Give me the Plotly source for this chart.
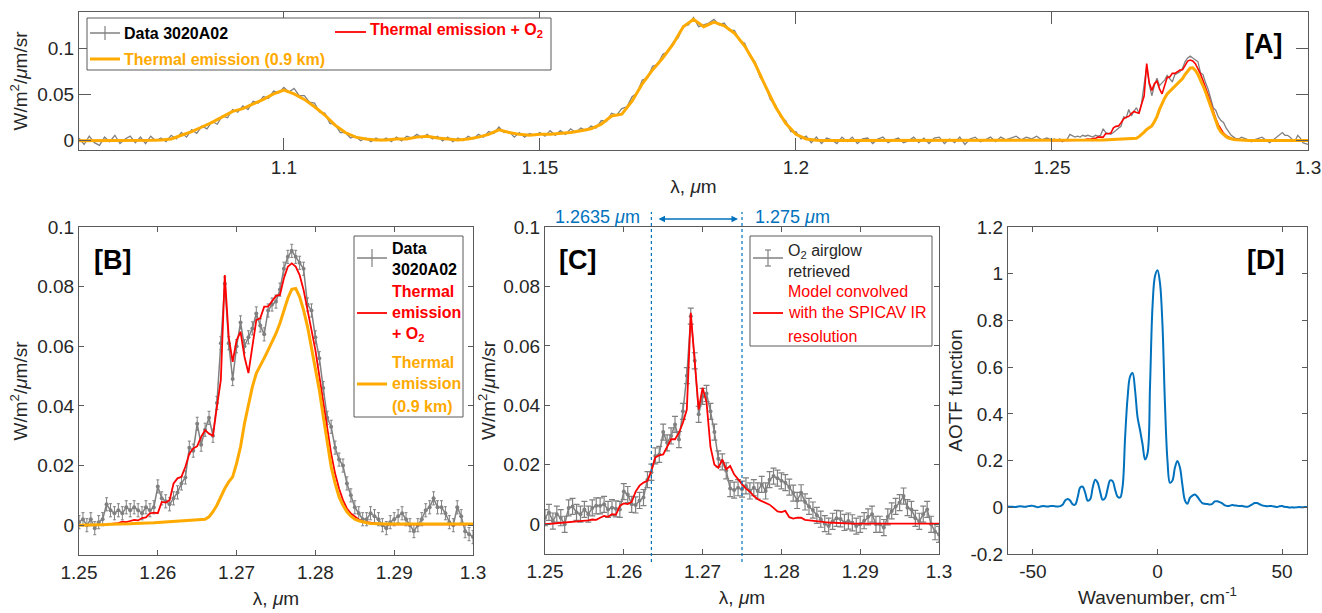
import numpy as np
import plotly.graph_objects as go

W, H = 1322, 613
FONT = "Liberation Sans"
TXT = "#262626"
FRAME = "#5a5a5a"
GRAY = "#808080"
RED = "#ff0000"
ORANGE = "#ffaa00"
BLUE = "#0072bd"

# ---------------- data ----------------
# Panel A: measured spectrum 1.060-1.249 um (step 0.001)
a_wl_start, a_wl_step = 1.060, 0.001
data_a = [
    0.003, -0.004, 0.005, -0.002, -0.005, 0.004, -0.001, 0.006, -0.003, 0.002,
    0.005, -0.002, 0.004, -0.003, 0.005, 0.000, 0.003, -0.001, 0.006, 0.002,
    0.009, 0.004, 0.012, 0.008, 0.016, 0.013, 0.021, 0.018, 0.027, 0.025,
    0.034, 0.031, 0.038, 0.034, 0.043, 0.041, 0.048, 0.046, 0.054, 0.052,
    0.058, 0.053, 0.057, 0.049, 0.049, 0.042, 0.041, 0.031, 0.030, 0.019,
    0.018, 0.009, 0.009, 0.003, 0.005, 0.000, 0.003, -0.001, 0.003, 0.000,
    0.003, -0.001, 0.004, 0.000, 0.005, 0.003, 0.007, 0.003, 0.007, 0.002,
    0.005, 0.000, 0.004, -0.001, 0.003, 0.000, 0.005, 0.002, 0.007, 0.004,
    0.010, 0.008, 0.015, 0.009, 0.010, 0.004, 0.009, 0.004, 0.008, 0.006,
    0.009, 0.005, 0.011, 0.006, 0.011, 0.007, 0.013, 0.009, 0.014, 0.011,
    0.016, 0.014, 0.022, 0.021, 0.030, 0.028, 0.035, 0.037, 0.048, 0.052,
    0.066, 0.068, 0.081, 0.083, 0.094, 0.097, 0.107, 0.112, 0.125, 0.126,
    0.134, 0.124, 0.126, 0.128, 0.132, 0.126, 0.128, 0.120, 0.120, 0.109,
    0.106, 0.092, 0.086, 0.069, 0.061, 0.045, 0.039, 0.026, 0.022, 0.010,
    0.010, 0.002, 0.005, -0.002, 0.004, -0.003, 0.003, 0.001, -0.003, 0.004,
    -0.001, 0.004, -0.003, 0.002, 0.003, -0.003, 0.002, 0.004, -0.002, 0.001,
    0.003, -0.002, 0.000, 0.004, -0.002, 0.003, -0.003, 0.003, 0.004, -0.003,
    0.002, -0.002, 0.004, -0.004, 0.002, 0.004, -0.001, 0.001, 0.004, -0.001,
    0.004, 0.001, 0.003, 0.005, 0.001, 0.004, 0.002, 0.005, 0.001, 0.003,
]
# Panel A: thermal emission model 1.060-1.248 um (step 0.002)
o_wl_start, o_wl_step = 1.060, 0.002
thermal_a = [
    0.0, 0.0, 0.0, 0.0, 0.0, 0.0, 0.0, 0.0005, 0.001, 0.002,
    0.006, 0.010, 0.015, 0.020, 0.026, 0.032, 0.035, 0.040, 0.045, 0.051,
    0.055, 0.051, 0.045, 0.037, 0.028, 0.017, 0.009, 0.004, 0.002, 0.001,
    0.001, 0.002, 0.002, 0.004, 0.005, 0.003, 0.002, 0.001, 0.002, 0.004,
    0.007, 0.012, 0.009, 0.007, 0.006, 0.007, 0.007, 0.008, 0.009, 0.011,
    0.013, 0.018, 0.027, 0.029, 0.043, 0.062, 0.077, 0.090, 0.105, 0.124,
    0.132, 0.124, 0.129, 0.125, 0.117, 0.103, 0.084, 0.060, 0.037, 0.019,
    0.007, 0.002, 0.0005, 0.0003, 0.0003, 0.0003, 0.0003, 0.0003, 0.0003, 0.0003,
    0.0003, 0.0003, 0.0003, 0.0003, 0.0003, 0.0003, 0.0003, 0.0003, 0.0003, 0.0003,
    0.0003, 0.0003, 0.0003, 0.0003, 0.0003,
]

# Panels B/C: 1.250-1.300 um (step 0.0005)
b_wl_start, b_wl_step = 1.250, 0.0005
data_b = [
    0.001, 0.002, 0.000, 0.002, -0.001, 0.001, 0.002, 0.007, 0.005, 0.004,
    0.005, 0.004, 0.006, 0.005, 0.006, 0.005, 0.004, 0.006, 0.005, 0.006,
    0.013, 0.009, 0.008, 0.007, 0.009, 0.011, 0.014, 0.016, 0.026, 0.025,
    0.034, 0.027, 0.032, 0.036, 0.030, 0.041, 0.061, 0.081, 0.061, 0.049,
    0.060, 0.068, 0.060, 0.063, 0.066, 0.071, 0.067, 0.064, 0.072, 0.074,
    0.075, 0.079, 0.086, 0.090, 0.092, 0.090, 0.088, 0.086, 0.074, 0.072,
    0.063, 0.056, 0.046, 0.036, 0.033, 0.026, 0.022, 0.020, 0.014, 0.010,
    0.006, 0.004, 0.002, 0.002, 0.004, 0.003, 0.002, 0.000, -0.001, 0.001,
    0.002, 0.003, 0.004, 0.002, 0.000, -0.002, 0.000, 0.002, 0.005, 0.006,
    0.009, 0.006, 0.006, 0.004, 0.001, 0.000, 0.006, 0.003, -0.002, -0.003,
    -0.004,
]
thermal_o2_b = [
    0.0000, 0.0000, 0.0000, 0.0001, 0.0001, 0.0002, 0.0002, 0.0003, 0.0004, 0.0006,
    0.0007, 0.0012, 0.0010, 0.0014, 0.0018, 0.0016, 0.0024, 0.0026, 0.0040, 0.0042,
    0.0040, 0.0078, 0.0076, 0.0084, 0.0140, 0.0157, 0.0162, 0.0196, 0.0240, 0.0257,
    0.0265, 0.0296, 0.0319, 0.0307, 0.0300, 0.0397, 0.0487, 0.0839, 0.0630, 0.0548,
    0.0620, 0.0649, 0.0565, 0.0510, 0.0600, 0.0688, 0.0694, 0.0733, 0.0733, 0.0750,
    0.0769, 0.0772, 0.0828, 0.0867, 0.0878, 0.0867, 0.0839, 0.0789, 0.0727, 0.0655,
    0.0587, 0.0498, 0.0408, 0.0319, 0.0240, 0.0173, 0.0123, 0.0084, 0.0056, 0.0039,
    0.0028, 0.0019, 0.0013, 0.0010, 0.0008, 0.0006, 0.0004, 0.0003, 0.0003, 0.0003,
    0.0003, 0.0003, 0.0003, 0.0003, 0.0003, 0.0003, 0.0003, 0.0003, 0.0003, 0.0003,
    0.0003, 0.0003, 0.0003, 0.0003, 0.0003, 0.0003, 0.0003, 0.0003, 0.0003, 0.0003,
    0.0003,
]
thermal_b = [
    0.0000, 0.0000, 0.0001, 0.0001, 0.0001, 0.0002, 0.0002, 0.0002, 0.0003, 0.0003,
    0.0004, 0.0004, 0.0005, 0.0005, 0.0006, 0.0006, 0.0007, 0.0007, 0.0008, 0.0008,
    0.0009, 0.0010, 0.0011, 0.0012, 0.0012, 0.0013, 0.0014, 0.0015, 0.0016, 0.0017,
    0.0017, 0.0018, 0.0020, 0.0028, 0.0045, 0.0067, 0.0095, 0.0123, 0.0145, 0.0162,
    0.0207, 0.0263, 0.0341, 0.0408, 0.0464, 0.0509, 0.0537, 0.0560, 0.0587, 0.0615,
    0.0643, 0.0677, 0.0721, 0.0761, 0.0791, 0.0794, 0.0766, 0.0721, 0.0666, 0.0598,
    0.0531, 0.0453, 0.0364, 0.0274, 0.0196, 0.0140, 0.0095, 0.0067, 0.0045, 0.0030,
    0.0020, 0.0015, 0.0011, 0.0008, 0.0006, 0.0005, 0.0004, 0.0004, 0.0004, 0.0004,
    0.0004, 0.0004, 0.0004, 0.0004, 0.0004, 0.0004, 0.0004, 0.0004, 0.0004, 0.0004,
    0.0004, 0.0004, 0.0004, 0.0004, 0.0004, 0.0004, 0.0004, 0.0004, 0.0004, 0.0004,
    0.0004,
]
airglow_c = [
    0.0022, 0.0040, 0.0011, 0.0034, 0.0022, 0.0000, 0.0055, 0.0060, 0.0040, 0.0034,
    0.0050, 0.0034, 0.0055, 0.0062, 0.0062, 0.0067, 0.0050, 0.0056, 0.0052, 0.0050,
    0.0110, 0.0100, 0.0067, 0.0065, 0.0080, 0.0090, 0.0150, 0.0175, 0.0230, 0.0235,
    0.0310, 0.0274, 0.0297, 0.0336, 0.0285, 0.0380, 0.0500, 0.0700, 0.0550, 0.0370,
    0.0430, 0.0440, 0.0380, 0.0310, 0.0220, 0.0210, 0.0180, 0.0120, 0.0115, 0.0123,
    0.0118, 0.0129, 0.0112, 0.0123, 0.0112, 0.0134, 0.0112, 0.0150, 0.0162, 0.0155,
    0.0146, 0.0140, 0.0125, 0.0105, 0.0080, 0.0106, 0.0075, 0.0060, 0.0048, 0.0030,
    0.0017, 0.0002, -0.0006, 0.0010, 0.0020, 0.0018, 0.0006, 0.0011, 0.0005, -0.0006,
    0.0000, 0.0012, 0.0025, 0.0034, 0.0000, 0.0000, -0.0011, 0.0025, 0.0045, 0.0060,
    0.0073, 0.0095, 0.0056, 0.0050, 0.0020, 0.0010, 0.0034, 0.0050, 0.0000, -0.0025,
    -0.0034,
]
model_c = [
    0.0000, 0.0001, 0.0002, 0.0003, 0.0004, 0.0005, 0.0006, 0.0007, 0.0008, 0.0011,
    0.0010, 0.0013, 0.0016, 0.0015, 0.0022, 0.0028, 0.0025, 0.0034, 0.0032, 0.0062,
    0.0070, 0.0068, 0.0075, 0.0110, 0.0130, 0.0140, 0.0146, 0.0180, 0.0225, 0.0232,
    0.0235, 0.0258, 0.0286, 0.0286, 0.0308, 0.0342, 0.0386, 0.0711, 0.0560, 0.0386,
    0.0459, 0.0410, 0.0260, 0.0200, 0.0190, 0.0218, 0.0185, 0.0196, 0.0168, 0.0150,
    0.0135, 0.0120, 0.0110, 0.0095, 0.0084, 0.0078, 0.0073, 0.0066, 0.0055, 0.0043,
    0.0041, 0.0045, 0.0024, 0.0019, 0.0022, 0.0022, 0.0015, 0.0013, 0.0013, 0.0011,
    0.0008, 0.0007, 0.0006, 0.0005, 0.0004, 0.0003, 0.0002, 0.0002, 0.0002, 0.0002,
    0.0002, 0.0002, 0.0002, 0.0002, 0.0002, 0.0002, 0.0002, 0.0002, 0.0002, 0.0002,
    0.0002, 0.0002, 0.0002, 0.0002, 0.0002, 0.0002, 0.0002, 0.0002, 0.0002, 0.0002,
    0.0002,
]
err_b = 0.0022
err_c = 0.0027

# Panel D: AOTF function, wavenumber -60..60 cm-1 (step 1)
d_wn_start, d_wn_step = -60, 1
aotf = [
    0.003, 0.002, 0.002, 0.001, 0.003, 0.004, 0.003, 0.002, 0.005, 0.006,
    0.006, 0.003, 0.000, 0.003, 0.005, 0.004, 0.003, 0.005, 0.006, 0.004,
    0.003, 0.005, 0.012, 0.030, 0.036, 0.028, 0.012, 0.012, 0.045, 0.085,
    0.088, 0.062, 0.028, 0.035, 0.085, 0.118, 0.105, 0.065, 0.032, 0.040,
    0.080, 0.115, 0.112, 0.075, 0.045, 0.042, 0.090, 0.300, 0.470, 0.560,
    0.575, 0.500, 0.385, 0.330, 0.270, 0.205, 0.230, 0.520, 0.860, 0.990,
    1.015, 0.960, 0.780, 0.440, 0.200, 0.105, 0.115, 0.170, 0.198, 0.170,
    0.095, 0.030, 0.015, 0.040, 0.050, 0.055, 0.045, 0.030, 0.018, 0.015,
    0.014, 0.012, 0.015, 0.025, 0.026, 0.022, 0.017, 0.008, 0.006, 0.007,
    0.010, 0.008, 0.007, 0.005, 0.006, 0.003, 0.002, 0.006, 0.012, 0.018,
    0.018, 0.013, 0.008, 0.006, 0.004, 0.006, 0.005, 0.003, 0.001, 0.004,
    0.005, 0.002, 0.001, -0.001, 0.000, -0.001, 0.000, 0.001, 0.000, 0.001,
    0.001,
]
c_window = [1.2635, 1.275]

# ---------------- grids ----------------
wl_a = np.round(a_wl_start + a_wl_step * np.arange(len(data_a)), 4)
wl_o = np.round(o_wl_start + o_wl_step * np.arange(len(thermal_a)), 4)
wl_b = np.round(b_wl_start + b_wl_step * np.arange(len(data_b)), 4)
wn_d = d_wn_start + d_wn_step * np.arange(len(aotf))

data_full = np.concatenate([wl_a, wl_b]), np.concatenate([data_a, data_b])
therm_full = np.concatenate([wl_o, wl_b]), np.concatenate([thermal_a, thermal_b])

fig = go.Figure()
# A
fig.add_trace(go.Scatter(x=data_full[0], y=data_full[1], mode="lines",
                         line=dict(color=GRAY, width=1.3), xaxis="x", yaxis="y"))
fig.add_trace(go.Scatter(x=wl_b, y=thermal_o2_b, mode="lines",
                         line=dict(color=RED, width=1.6), xaxis="x", yaxis="y"))
fig.add_trace(go.Scatter(x=therm_full[0], y=therm_full[1], mode="lines",
                         line=dict(color=ORANGE, width=3), xaxis="x", yaxis="y"))
# B
fig.add_trace(go.Scatter(x=wl_b, y=data_b, mode="lines+markers",
                         line=dict(color=GRAY, width=1.5), marker=dict(color=GRAY, size=4),
                         error_y=dict(type="constant", value=err_b, color=GRAY, thickness=1, width=1.5),
                         xaxis="x2", yaxis="y2"))
fig.add_trace(go.Scatter(x=wl_b, y=thermal_o2_b, mode="lines",
                         line=dict(color=RED, width=1.8), xaxis="x2", yaxis="y2"))
fig.add_trace(go.Scatter(x=wl_b, y=thermal_b, mode="lines",
                         line=dict(color=ORANGE, width=3), xaxis="x2", yaxis="y2"))
# C
fig.add_trace(go.Scatter(x=wl_b, y=airglow_c, mode="lines+markers",
                         line=dict(color=GRAY, width=1.5), marker=dict(color=GRAY, size=4),
                         error_y=dict(type="constant", value=err_c, color=GRAY, thickness=1.2, width=3),
                         xaxis="x3", yaxis="y3"))
fig.add_trace(go.Scatter(x=wl_b, y=model_c, mode="lines",
                         line=dict(color=RED, width=1.8), xaxis="x3", yaxis="y3"))
# D
fig.add_trace(go.Scatter(x=wn_d, y=aotf, mode="lines", line_shape="spline",
                         line=dict(color=BLUE, width=2), xaxis="x4", yaxis="y4"))


def px(x):
    return x / W


def py(y):
    return 1 - y / H


def axis(dom, rng, ticklen, tickvals, ticktext, anchor, title=None, standoff=0):
    d = dict(domain=dom, range=rng, showline=True, linecolor=FRAME, linewidth=1,
             mirror="allticks", ticks="inside", ticklen=ticklen, tickcolor=FRAME,
             tickwidth=1, showgrid=False, zeroline=False, automargin=False,
             tickvals=tickvals, ticktext=ticktext, anchor=anchor,
             tickfont=dict(family=FONT, size=19, color=TXT))
    if title:
        d["title"] = dict(text=title, standoff=standoff,
                          font=dict(family=FONT, size=19, color=TXT))
    return d


ylab = "W/m<sup>2</sup>/<i>μ</i>m/sr"
xlab = "λ, <i>μ</i>m"
wl_ticks_a = [1.1, 1.15, 1.2, 1.25, 1.3]
wl_ticks_b = [1.25, 1.26, 1.27, 1.28, 1.29, 1.3]
yt_a = [0, 0.05, 0.1]
yt_b = [0, 0.02, 0.04, 0.06, 0.08, 0.1]
yt_d = [-0.2, 0, 0.2, 0.4, 0.6, 0.8, 1, 1.2]
xt_d = [-50, 0, 50]

fig.update_layout(
    width=W, height=H, margin=dict(l=0, r=0, t=0, b=0),
    paper_bgcolor="white", plot_bgcolor="white", showlegend=False,
    xaxis=axis([px(79), px(1308)], [1.06, 1.3], 12, wl_ticks_a,
               [str(v) for v in wl_ticks_a], "y", xlab, 2),
    yaxis=axis([py(150), py(12)], [-0.01, 0.14], 12, yt_a,
               [str(v) for v in yt_a], "x", ylab, 4),
    xaxis2=axis([px(79), px(473)], [1.25, 1.3], 5, wl_ticks_b,
                [str(v) for v in wl_ticks_b], "y2", xlab, 9),
    yaxis2=axis([py(555), py(227)], [-0.01, 0.1], 5, yt_b,
                [str(v) for v in yt_b], "x2", ylab, 4),
    xaxis3=axis([px(545), px(939)], [1.25, 1.3], 5, wl_ticks_b,
                [str(v) for v in wl_ticks_b], "y3", xlab, 9),
    yaxis3=axis([py(554), py(227)], [-0.01, 0.1], 5, yt_b,
                [str(v) for v in yt_b], "x3", ylab, 2),
    xaxis4=axis([px(1008), px(1307)], [-60, 60], 5, xt_d,
                [str(v) for v in xt_d], "y4", "Wavenumber, cm<sup>-1</sup>", 9),
    yaxis4=axis([py(554), py(227)], [-0.2, 1.2], 5, yt_d,
                [f"{v:g}" for v in yt_d], "x4", "AOTF function", 2),
)

shapes = []
annots = []


def hline(x0, x1, y, color, width):
    shapes.append(dict(type="line", xref="paper", yref="paper", x0=px(x0), x1=px(x1),
                       y0=py(y), y1=py(y), line=dict(color=color, width=width)))


def vline(x, y0, y1, color, width):
    shapes.append(dict(type="line", xref="paper", yref="paper", x0=px(x), x1=px(x),
                       y0=py(y0), y1=py(y1), line=dict(color=color, width=width)))


def box(x0, y0, x1, y1):
    shapes.append(dict(type="rect", xref="paper", yref="paper", x0=px(x0), x1=px(x1),
                       y0=py(y1), y1=py(y0), line=dict(color=FRAME, width=1),
                       fillcolor="white", layer="above"))


def text(x, y, s, color, size=16, bold=False, anchor="left"):
    if bold:
        s = "<b>" + s + "</b>"
    annots.append(dict(xref="paper", yref="paper", x=px(x), y=py(y), text=s,
                       showarrow=False, xanchor=anchor, yanchor="middle",
                       font=dict(family=FONT, size=size, color=color)))


def errglyph(xc, y, half, cap):
    vline(xc, y - half, y + half, GRAY, 1.2)
    if cap:
        hline(xc - cap, xc + cap, y - half, GRAY, 1.2)
        hline(xc - cap, xc + cap, y + half, GRAY, 1.2)


# Legend A
box(87, 18, 551, 70)
hline(90, 120, 33, GRAY, 1.5)
errglyph(105, 33, 7, 0)
text(122, 33, "Data 3020A02", "black", 16, True)
hline(335, 366, 32, RED, 1.8)
text(368, 31, "Thermal emission + O<sub>2</sub>", RED, 16, True)
hline(90, 120, 59, ORANGE, 3)
text(122, 59, "Thermal emission (0.9 km)", ORANGE, 16, True)

# Legend B
box(354, 236, 463, 417)
hline(357, 387, 258, GRAY, 1.5)
errglyph(372, 258, 9, 0)
text(390, 248, "Data", "black", 16, True)
text(390, 269, "3020A02", "black", 16, True)
hline(357, 387, 313, RED, 1.8)
text(390, 291, "Thermal", RED, 16, True)
text(390, 313, "emission", RED, 16, True)
text(390, 334, "+ O<sub>2</sub>", RED, 16, True)
hline(357, 387, 384, ORANGE, 3)
text(390, 362, "Thermal", ORANGE, 16, True)
text(390, 384, "emission", ORANGE, 16, True)
text(390, 406, "(0.9 km)", ORANGE, 16, True)

# Legend C
box(750, 236, 932, 346)
hline(753, 783, 258, GRAY, 1.5)
errglyph(768, 258, 8, 3)
text(786, 251, "O<sub>2</sub> airglow", TXT, 16)
text(786, 271, "retrieved", TXT, 16)
hline(753, 783, 313, RED, 1.8)
text(786, 291, "Model convolved", RED, 16)
text(786, 313, "with the SPICAV IR", RED, 16)
text(786, 336, "resolution", RED, 16)

# Panel labels
text(1263, 44, "[A]", "black", 27, True, "center")
text(112, 260, "[B]", "black", 27, True, "center")
text(577, 260, "[C]", "black", 27, True, "center")
text(1265, 260, "[D]", "black", 27, True, "center")

# Panel C window markers
for xv in c_window:
    shapes.append(dict(type="line", xref="x3", yref="paper", x0=xv, x1=xv,
                       y0=py(562), y1=py(212),
                       line=dict(color=BLUE, width=1.2, dash="3px,3px")))
text(597, 217, "1.2635 <i>μ</i>m", BLUE, 18, False, "center")
text(792, 217, "1.275 <i>μ</i>m", BLUE, 18, False, "center")
annots.append(dict(xref="paper", yref="paper", x=px(738), y=py(219), ax=-81, ay=0,
                   text="", showarrow=True, arrowhead=2, arrowside="end+start",
                   arrowsize=1, arrowwidth=1.3, arrowcolor=BLUE, standoff=0, startstandoff=0))

fig.update_layout(shapes=shapes, annotations=annots)
fig.write_html("out.html")
